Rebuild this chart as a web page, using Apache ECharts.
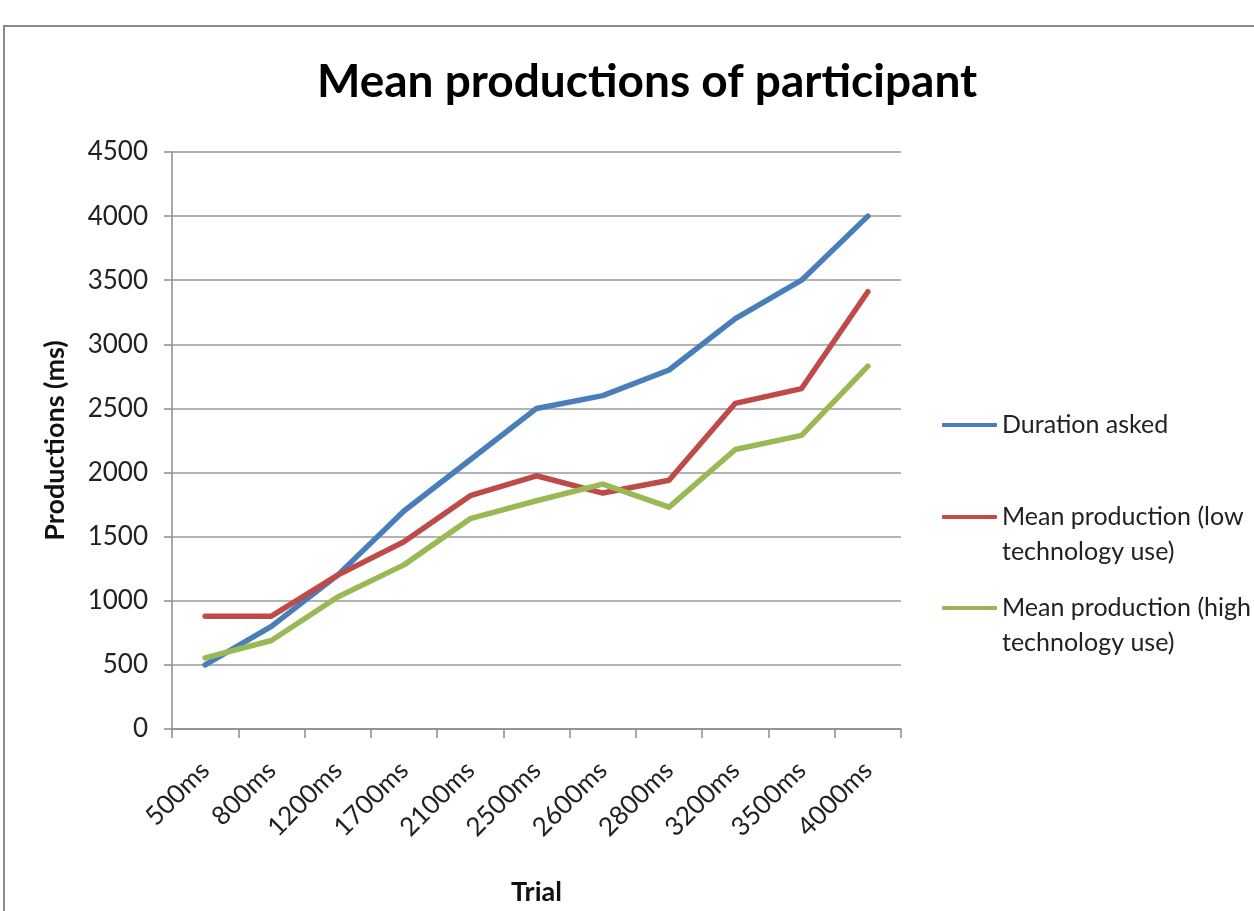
<!DOCTYPE html>
<html>
<head>
<meta charset="utf-8">
<style>
  html, body { margin: 0; padding: 0; background: #fff; }
  #frame { position: absolute; left: 3px; top: 25px; width: 1400px; height: 1000px; border: 2px solid #8a8a8a; box-sizing: border-box; }
  #chart { position: absolute; left: 0; top: 0; width: 1254px; height: 911px; }
</style>
<script src="https://cdn.jsdelivr.net/npm/echarts@6/dist/echarts.min.js"></script>
</head>
<body>
<div id="frame"></div>
<div id="chart"></div>
<script>
// Trial durations (categories) and mean productions in ms
const trials = ['500ms', '800ms', '1200ms', '1700ms', '2100ms', '2500ms', '2600ms', '2800ms', '3200ms', '3500ms', '4000ms'];
const durationAsked = [500, 800, 1200, 1700, 2100, 2500, 2600, 2800, 3200, 3500, 4000];
const meanLowTech = [880, 880, 1200, 1460, 1820, 1975, 1840, 1940, 2540, 2655, 3410];
const meanHighTech = [555, 690, 1030, 1280, 1640, 1780, 1910, 1730, 2180, 2290, 2830];
const seriesNames = ['Duration asked', 'Mean production (low technology use)', 'Mean production (high technology use)'];
// a leading blank line keeps the legend swatch level with the first text line
const legendText = ['Duration asked', '\nMean production (low\ntechnology use)', '\nMean production (high\ntechnology use)'];
const colors = ['#4a7ebb', '#be4b48', '#98b954'];

const FONT = 'Lato';
const LH = 35;
const chart = echarts.init(document.getElementById('chart'));

function legendItem(i, centerY, lines) {
  return {
    data: [seriesNames[i]],
    orient: 'vertical',
    left: 937,
    top: centerY - (lines * LH) / 2 - 4,
    icon: 'roundRect',
    itemWidth: 55,
    itemHeight: 4,
    itemGap: 0,
    selectedMode: false,
    formatter: () => legendText[i],
    textStyle: { fontFamily: FONT, fontSize: 25, color: '#222', lineHeight: LH }
  };
}

chart.setOption({
  animation: false,
  color: colors,
  title: {
    text: 'Mean productions of participant',
    left: 642, textAlign: 'center', top: 54,
    textStyle: { fontFamily: FONT, fontSize: 46, fontWeight: 'bold', color: '#000' }
  },
  legend: [
    legendItem(0, 424, 1),
    legendItem(1, 516, 3),
    legendItem(2, 607, 3)
  ],
  grid: { left: 172, right: 353, top: 152, bottom: 182 },
  xAxis: {
    type: 'category',
    data: trials,
    boundaryGap: true,
    name: 'Trial',
    nameLocation: 'middle',
    nameGap: 150,
    nameTextStyle: { fontFamily: FONT, fontSize: 27, fontWeight: 'bold', color: '#111' },
    axisLine: { lineStyle: { color: '#8c8c8c', width: 1.5 } },
    axisTick: { show: true, length: 9, lineStyle: { color: '#8c8c8c', width: 1.5 } },
    axisLabel: { rotate: 45, margin: 37, fontFamily: FONT, fontSize: 26, color: '#222', interval: 0 },
    splitLine: { show: false }
  },
  yAxis: {
    type: 'value',
    min: 0, max: 4500, interval: 500,
    name: 'Productions (ms)',
    nameLocation: 'middle',
    nameGap: 103,
    nameTextStyle: { fontFamily: FONT, fontSize: 27, fontWeight: 'bold', color: '#111' },
    axisLine: { show: true, lineStyle: { color: '#8c8c8c', width: 1.5 } },
    axisTick: { show: true, length: 8, lineStyle: { color: '#8c8c8c', width: 1.5 } },
    axisLabel: { margin: 24, fontFamily: FONT, fontSize: 26, color: '#222', formatter: v => String(v) },
    splitLine: { show: true, lineStyle: { color: '#9a9a9a', width: 1.5 } }
  },
  series: [
    { name: seriesNames[0], type: 'line', data: durationAsked, symbol: 'none', lineStyle: { width: 5.5, cap: 'round', join: 'round' } },
    { name: seriesNames[1], type: 'line', data: meanLowTech, symbol: 'none', lineStyle: { width: 5.5, cap: 'round', join: 'round' } },
    { name: seriesNames[2], type: 'line', data: meanHighTech, symbol: 'none', lineStyle: { width: 5.5, cap: 'round', join: 'round' } }
  ]
});
</script>
</body>
</html>
